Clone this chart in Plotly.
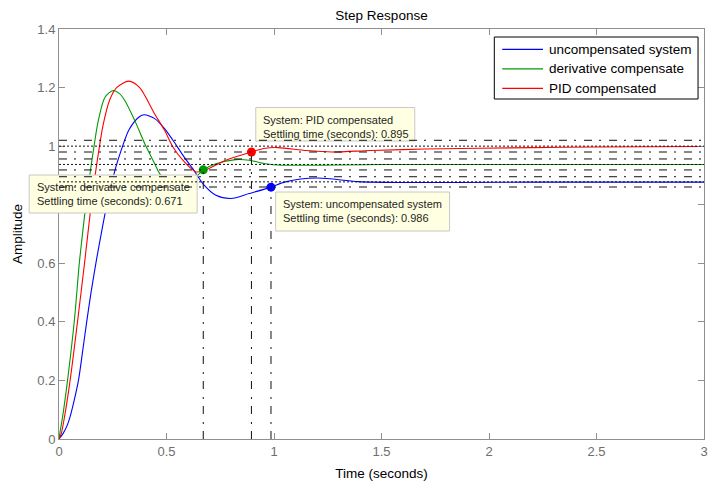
import plotly.graph_objects as go

# ---------------- data ----------------
t_unc = [0.0, 0.02, 0.04, 0.052, 0.07, 0.091, 0.11, 0.129, 0.15, 0.175, 0.2, 0.228,
         0.265, 0.291, 0.325, 0.368, 0.395, 0.445, 0.491, 0.53, 0.58, 0.622, 0.676,
         0.73, 0.8, 0.884, 0.986, 1.053, 1.2, 1.39, 1.6, 1.85, 2.2, 3.0]
y_unc = [0.0, 0.02, 0.05, 0.077, 0.13, 0.202, 0.30, 0.401, 0.505, 0.615, 0.715, 0.82,
         0.93, 0.99, 1.055, 1.097, 1.107, 1.094, 1.06, 1.02, 0.965, 0.923, 0.866,
         0.832, 0.821, 0.838, 0.860, 0.878, 0.891, 0.879, 0.876, 0.876, 0.877, 0.877]

t_der = [0.0, 0.004, 0.017, 0.04, 0.071, 0.094, 0.106, 0.125, 0.145, 0.165, 0.183,
         0.214, 0.252, 0.28, 0.306, 0.352, 0.399, 0.445, 0.468, 0.52, 0.57, 0.62,
         0.671, 0.73, 0.822, 0.884, 0.96, 1.037, 1.5, 3.0]
y_der = [0.0, 0.02, 0.077, 0.202, 0.401, 0.597, 0.679, 0.80, 0.91, 1.01, 1.088,
         1.167, 1.19, 1.18, 1.156, 1.088, 1.008, 0.94, 0.906, 0.86, 0.85, 0.88,
         0.919, 0.94, 0.954, 0.952, 0.94, 0.935, 0.9375, 0.9375]

t_pid = [0.0, 0.011, 0.026, 0.052, 0.086, 0.121, 0.145, 0.168, 0.206, 0.237, 0.268,
         0.325, 0.375, 0.445, 0.491, 0.53, 0.576, 0.637, 0.68, 0.776, 0.895, 0.96,
         1.02, 1.15, 1.27, 1.45, 1.7, 2.2, 2.5, 3.0]
y_pid = [0.0, 0.02, 0.077, 0.202, 0.40, 0.615, 0.77, 0.90, 1.075, 1.16, 1.2,
         1.222, 1.2, 1.11, 1.054, 0.997, 0.952, 0.912, 0.918, 0.952, 0.980, 0.993,
         0.995, 0.985, 0.980, 0.985, 0.990, 0.995, 0.997, 0.999]

names = ["uncompensated system", "derivative compensate", "PID compensated"]
colors = ["#0000ff", "#009a00", "#ff0000"]
final_values = [0.878, 0.9375, 1.0]
settling_times = [0.986, 0.671, 0.895]
settling_amps = [0.860, 0.919, 0.980]
tip_systems = ["uncompensated system", "derivative compensate", "PID compensated"]

x_ticks = [0, 0.5, 1, 1.5, 2, 2.5, 3]
x_ticktext = ["0", "0.5", "1", "1.5", "2", "2.5", "3"]
y_ticks = [0, 0.2, 0.4, 0.6, 0.8, 1.0, 1.2, 1.4]
y_ticktext = ["0", "0.2", "0.4", "0.6", "0.8", "1", "1.2", "1.4"]

# ---------------- layout geometry (pixels) ----------------
W, H = 710, 486
ML, MR, MT, MB = 59, 2, 29, 47
PW, PH = W - ML - MR, H - MT - MB


def px(x):
    return (x - ML) / PW


def py(y):
    return 1 - (y - MT) / PH


FONT = "Liberation Sans, Arial, sans-serif"

fig = go.Figure()
series = [(t_unc, y_unc), (t_der, y_der), (t_pid, y_pid)]
for (t, y), name, col in zip(series, names, colors):
    fig.add_trace(go.Scatter(x=t, y=y, mode="lines", name=name, showlegend=False,
                             line=dict(color=col, width=1.1, shape="spline", smoothing=0.8),
                             hoverinfo="skip"))

fig.add_trace(go.Scatter(x=settling_times, y=settling_amps, mode="markers",
                         marker=dict(color=colors, size=9, line=dict(width=0)),
                         showlegend=False, hoverinfo="skip"))

shapes = []
annotations = []

# data-tip boxes (pixel boxes)
boxes = {
    "derivative compensate": (29, 175, 198, 213, 35, 194.2),
    "PID compensated": (257, 107.5, 417, 141, 262.5, 127),
    "uncompensated system": (277, 192, 452, 231, 282.5, 211.3),
}
for i, sysname in enumerate(tip_systems):
    x0, y0, x1, y1, tx, ty = boxes[sysname]
    shapes.append(dict(type="rect", xref="paper", yref="paper",
                       x0=px(x0), x1=px(x1), y0=py(y1), y1=py(y0),
                       fillcolor="#ffffe1", line=dict(color="#c8c8c8", width=1),
                       layer="above"))
    annotations.append(dict(xref="paper", yref="paper", x=px(tx), y=py(ty),
                            xanchor="left", yanchor="middle", align="left",
                            showarrow=False,
                            text=f"System: {sysname}<br>Settling time (seconds): {settling_times[i]:.3f}",
                            font=dict(family=FONT, size=11, color="#1e1e1e")))

# settling-time characteristic lines
DASHDOT = "8px,7px,2px,8px"
for fv, ts, sa in zip(final_values, settling_times, settling_amps):
    for lvl, dash in ((fv * 1.02, DASHDOT), (fv, "2px,2px"), (fv * 0.98, DASHDOT)):
        shapes.append(dict(type="line", xref="paper", yref="y", x0=0, x1=1, y0=lvl, y1=lvl,
                           line=dict(color="#111111", width=1, dash=dash), layer="above"))
    shapes.append(dict(type="line", xref="x", yref="y", x0=ts, x1=ts, y0=0, y1=sa,
                       line=dict(color="#111111", width=1, dash=DASHDOT), layer="above"))

# legend box (drawn like the MATLAB legend)
shapes.append(dict(type="rect", xref="paper", yref="paper",
                   x0=px(497), x1=px(702), y0=py(99), y1=py(37),
                   fillcolor="white", line=dict(color="black", width=1), layer="above"))
for k, (name, col) in enumerate(zip(names, colors)):
    yy = 49.3 + k * 19.5
    shapes.append(dict(type="line", xref="paper", yref="paper",
                       x0=px(505), x1=px(546), y0=py(yy), y1=py(yy),
                       line=dict(color=col, width=1.2), layer="above"))
    annotations.append(dict(xref="paper", yref="paper", x=px(550), y=py(yy),
                            xanchor="left", yanchor="middle", showarrow=False, text=name,
                            font=dict(family=FONT, size=13.5, color="black")))

axis_common = dict(showline=True, linecolor="#8f8f8f", linewidth=1, mirror="ticks",
                   ticks="inside", ticklen=6, tickcolor="#8f8f8f", showgrid=False,
                   zeroline=False, ticklabeloverflow="allow",
                   tickfont=dict(family=FONT, size=13, color="#6e6e6e"))

fig.update_layout(
    width=W, height=H, margin=dict(l=ML, r=MR, t=MT, b=MB),
    paper_bgcolor="white", plot_bgcolor="white", showlegend=False,
    title=dict(text="Step Response", x=0.5, xref="paper", y=1 - 15 / H, yref="container",
               yanchor="middle", xanchor="center",
               font=dict(family=FONT, size=13.5, color="black")),
    xaxis=dict(range=[0, 3], tickvals=x_ticks, ticktext=x_ticktext,
               title=dict(text="Time (seconds)", standoff=10,
                          font=dict(family=FONT, size=13.5, color="black")),
               **axis_common),
    yaxis=dict(range=[0, 1.4], tickvals=y_ticks, ticktext=y_ticktext,
               title=dict(text="Amplitude", standoff=11,
                          font=dict(family=FONT, size=13.5, color="black")),
               **axis_common),
    shapes=shapes, annotations=annotations,
)

fig.write_html("out.html")
